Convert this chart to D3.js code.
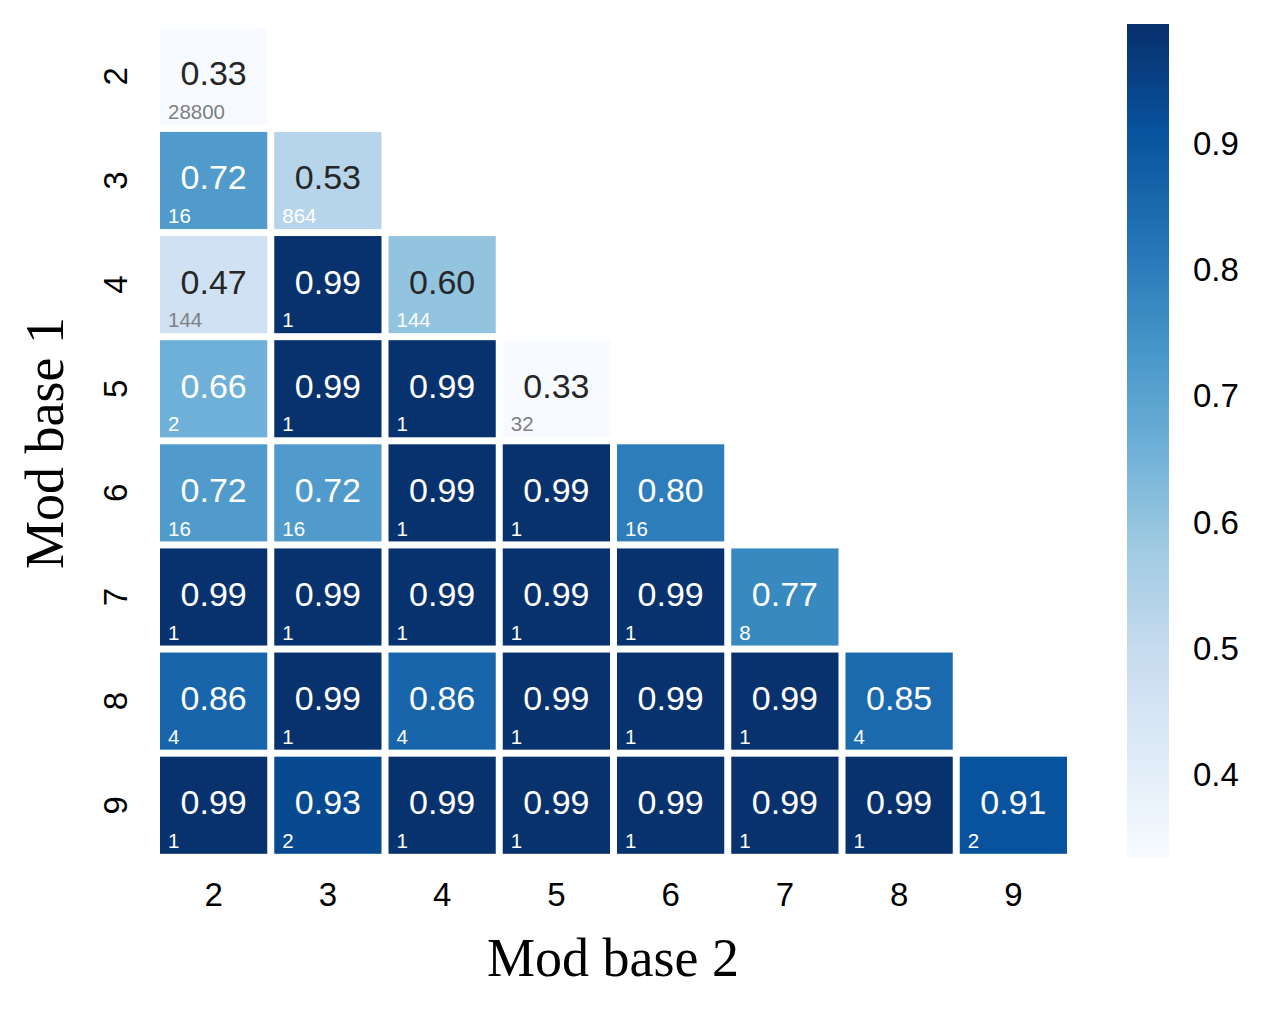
<!DOCTYPE html>
<html>
<head>
<meta charset="utf-8">
<script src="https://cdn.jsdelivr.net/npm/d3@7"></script>
<style>
  body { margin: 0; background: #fff; }
  svg { display: block; }
</style>
</head>
<body>
<svg></svg>
<script>
// categories
var modBase1 = ['2', '3', '4', '5', '6', '7', '8', '9'];   // rows
var modBase2 = ['2', '3', '4', '5', '6', '7', '8', '9'];   // columns

// lower triangle values, row by row
var scoreRows = [
  [0.33],
  [0.72, 0.53],
  [0.47, 0.99, 0.60],
  [0.66, 0.99, 0.99, 0.33],
  [0.72, 0.72, 0.99, 0.99, 0.80],
  [0.99, 0.99, 0.99, 0.99, 0.99, 0.77],
  [0.86, 0.99, 0.86, 0.99, 0.99, 0.99, 0.85],
  [0.99, 0.93, 0.99, 0.99, 0.99, 0.99, 0.99, 0.91]
];
var countRows = [
  [28800],
  [16, 864],
  [144, 1, 144],
  [2, 1, 1, 32],
  [16, 16, 1, 1, 16],
  [1, 1, 1, 1, 1, 8],
  [4, 1, 4, 1, 1, 1, 4],
  [1, 2, 1, 1, 1, 1, 1, 2]
];
var colorbarTicks = [0.4, 0.5, 0.6, 0.7, 0.8, 0.9];
var colorDomain = [0.335, 0.995];

// matplotlib "Blues" anchor colours
var bluesStops = ['#f7fbff', '#deebf7', '#c6dbef', '#9ecae1', '#6baed6',
                  '#4292c6', '#2171b5', '#08519c', '#08306b'];

var W = 1265, H = 1014;
var $svg = d3.select('svg').attr('width', W).attr('height', H);

var x = d3.scaleBand().domain(modBase2).range([156.5, 1070.5]);
var y = d3.scaleBand().domain(modBase1).range([24.3, 857.3]);
var gap = 7;

var t = d3.scaleLinear().domain(colorDomain).range([0, 1]).clamp(true);
var stopPos = d3.range(bluesStops.length).map(function(i) { return i / (bluesStops.length - 1); });
var blues = d3.scaleLinear().domain(stopPos).range(bluesStops).interpolate(d3.interpolateRgb);
var color = function(v) { return blues(t(v)); };

var luminance = function(c) {
  var rgb = d3.rgb(c);
  var lin = [rgb.r, rgb.g, rgb.b].map(function(u) {
    u = u / 255;
    return u <= 0.03928 ? u / 12.92 : Math.pow((u + 0.055) / 1.055, 2.4);
  });
  return 0.2126 * lin[0] + 0.7152 * lin[1] + 0.0722 * lin[2];
};

var cells = [];
scoreRows.forEach(function(row, i) {
  row.forEach(function(v, j) {
    cells.push({row: modBase1[i], col: modBase2[j], value: v, count: countRows[i][j]});
  });
});

var g = $svg.append('g');
var cell = g.selectAll('g.cell').data(cells).enter().append('g').attr('class', 'cell');

cell.append('rect')
  .attr('x', function(d) { return x(d.col) + gap / 2; })
  .attr('y', function(d) { return y(d.row) + gap / 2; })
  .attr('width', x.bandwidth() - gap)
  .attr('height', y.bandwidth() - gap)
  .attr('fill', function(d) { return color(d.value); });

cell.append('text')
  .attr('x', function(d) { return x(d.col) + x.bandwidth() / 2; })
  .attr('y', function(d) { return y(d.row) + 61; })
  .attr('text-anchor', 'middle')
  .style('font-family', '"Liberation Sans", Arial, sans-serif')
  .style('font-size', '34px')
  .attr('fill', function(d) { return luminance(color(d.value)) > 0.408 ? '#262626' : '#ffffff'; })
  .text(function(d) { return d.value.toFixed(2); });

cell.append('text')
  .attr('x', function(d) { return x(d.col) + 11.5; })
  .attr('y', function(d) { return y(d.row) + 94.7; })
  .style('font-family', '"Liberation Sans", Arial, sans-serif')
  .style('font-size', '20.5px')
  .attr('fill', function(d) { return d.value < 0.5 ? '#808080' : '#ffffff'; })
  .text(function(d) { return d.count; });

// axes tick labels
var xAxis = d3.axisBottom(x).tickSize(0).tickPadding(0);
$svg.append('g')
  .attr('transform', 'translate(0,857)')
  .call(xAxis)
  .call(function(sel) {
    sel.select('.domain').remove();
    sel.selectAll('text')
      .attr('y', 48.5).attr('dy', null)
      .style('font-family', '"Liberation Sans", Arial, sans-serif')
      .style('font-size', '33px')
      .attr('fill', '#000');
  });

var yAxis = d3.axisLeft(y).tickSize(0).tickPadding(0);
$svg.append('g')
  .attr('transform', 'translate(127,0)')
  .call(yAxis)
  .call(function(sel) {
    sel.select('.domain').remove();
    sel.selectAll('text')
      .attr('x', null).attr('dy', null)
      .attr('text-anchor', 'middle')
      .attr('transform', 'rotate(-90)')
      .style('font-family', '"Liberation Sans", Arial, sans-serif')
      .style('font-size', '33px')
      .attr('fill', '#000');
  });

// axis titles
$svg.append('text')
  .attr('x', 613).attr('y', 976)
  .attr('text-anchor', 'middle')
  .style('font-family', '"Liberation Serif", "Times New Roman", serif')
  .style('font-size', '54px')
  .text('Mod base 2');

$svg.append('text')
  .attr('transform', 'translate(63,443) rotate(-90)')
  .attr('text-anchor', 'middle')
  .style('font-family', '"Liberation Serif", "Times New Roman", serif')
  .style('font-size', '54px')
  .text('Mod base 1');

// colorbar
var cbX = 1127, cbW = 42;
var cb = d3.scaleLinear().domain(colorDomain).range([857, 24]);
var grad = $svg.append('defs').append('linearGradient')
  .attr('id', 'cbgrad').attr('x1', 0).attr('y1', 1).attr('x2', 0).attr('y2', 0);
grad.selectAll('stop').data(stopPos).enter().append('stop')
  .attr('offset', function(d) { return d; })
  .attr('stop-color', function(d) { return blues(d); });

$svg.append('rect')
  .attr('x', cbX).attr('y', cb.range()[1])
  .attr('width', cbW).attr('height', cb.range()[0] - cb.range()[1])
  .attr('fill', 'url(#cbgrad)');

var cbAxis = d3.axisRight(cb).tickValues(colorbarTicks).tickSize(0).tickPadding(24)
  .tickFormat(d3.format('.1f'));
$svg.append('g')
  .attr('transform', 'translate(' + (cbX + cbW) + ',0)')
  .call(cbAxis)
  .call(function(sel) {
    sel.select('.domain').remove();
    sel.selectAll('text')
      .style('font-family', '"Liberation Sans", Arial, sans-serif')
      .style('font-size', '33px')
      .attr('fill', '#000');
  });
</script>
</body>
</html>
